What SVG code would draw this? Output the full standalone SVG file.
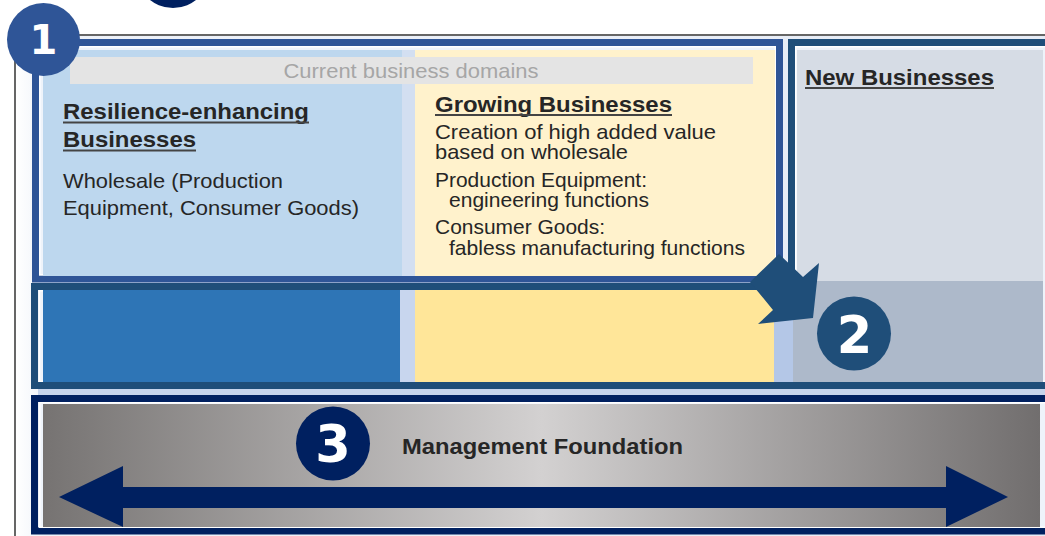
<svg xmlns="http://www.w3.org/2000/svg" width="1045" height="536" viewBox="0 0 1045 536">
  <defs>
    <linearGradient id="bg" x1="0" y1="0" x2="1" y2="0">
      <stop offset="0" stop-color="#FFFFFF"/>
      <stop offset="0.03" stop-color="#EEF2F9"/>
      <stop offset="1" stop-color="#E6ECF6"/>
    </linearGradient>
    <linearGradient id="metal" x1="0" y1="0" x2="1" y2="0">
      <stop offset="0" stop-color="#767372"/>
      <stop offset="0.5" stop-color="#D3D1D1"/>
      <stop offset="1" stop-color="#716E6E"/>
    </linearGradient>
    <style>
      .txt { font-family: "Liberation Sans", Arial, sans-serif; fill: #262626; }
      .hd { font-size: 21.5px; font-weight: bold; }
      .bd { font-size: 21px; }
      .ul { stroke: #444444; stroke-width: 2; }
      .num { font-family: "DejaVu Sans", Verdana, sans-serif; font-weight: bold; fill: #FFFFFF; text-anchor: middle; }
      .inner { fill: none; stroke: #FFFFFF; stroke-width: 1.5; }
    </style>
  </defs>

  <!-- background and outer frame -->
  <rect x="0" y="0" width="1045" height="536" fill="#FFFFFF"/>
  <rect x="16" y="36" width="1029" height="500" fill="url(#bg)"/>
  <line x1="15" y1="35" x2="1045" y2="35" stroke="#666666" stroke-width="2"/>
  <line x1="15" y1="35" x2="15" y2="536" stroke="#666666" stroke-width="2"/>
  <rect x="38" y="389" width="1007" height="6" fill="#C6D4EC"/>

  <!-- Box 2: bottom row + new businesses column -->
  <g id="box2">
    <path d="M34.5,286.5 H791.5 V42.5 H1052 V385.5 H34.5 Z" fill="#EEF3FA" stroke="#1F4E79" stroke-width="7"/>
    <path d="M39.5,290.75 H795.75 V46.75 H1050 V381.25 H39.5 Z" class="inner"/>
    <rect x="43" y="290" width="357" height="92" fill="#2E75B6"/>
    <rect x="400" y="290" width="15" height="92" fill="#C8D6EE"/>
    <rect x="415" y="290" width="359" height="92" fill="#FFE699"/>
    <rect x="774" y="290" width="19" height="92" fill="#B4C7E7"/>
    <rect x="793" y="281" width="250" height="101" fill="#ADB9CA"/>
    <rect x="797" y="50" width="246" height="231" fill="#D6DCE5"/>
    <text class="txt hd" x="805" y="85" textLength="189" lengthAdjust="spacingAndGlyphs">New Businesses</text>
    <line class="ul" x1="805" y1="88" x2="994" y2="88"/>
  </g>

  <!-- Box 1: current business domains -->
  <g id="box1">
    <rect x="35.5" y="42.5" width="744" height="236.5" fill="#EEF3FA" stroke="#2F5597" stroke-width="7"/>
    <rect x="39.75" y="46.75" width="735.5" height="228" class="inner"/>
    <rect x="43" y="50" width="359" height="226" fill="#BDD7EE"/>
    <rect x="402" y="50" width="13" height="226" fill="#D3DFF1"/>
    <rect x="415" y="50" width="360" height="226" fill="#FFF2CC"/>
    <rect x="70" y="57" width="683" height="27" fill="#E4E4E4"/>
    <text x="411" y="78" text-anchor="middle" font-family="Liberation Sans, Arial, sans-serif" font-size="21" fill="#A6A6A6" textLength="255" lengthAdjust="spacingAndGlyphs">Current business domains</text>

    <g id="resilience">
      <text class="txt hd" x="63" y="119" textLength="246" lengthAdjust="spacingAndGlyphs">Resilience-enhancing</text>
      <line class="ul" x1="63" y1="122.5" x2="309" y2="122.5"/>
      <text class="txt hd" x="63" y="147" textLength="133" lengthAdjust="spacingAndGlyphs">Businesses</text>
      <line class="ul" x1="63" y1="150.5" x2="196" y2="150.5"/>
      <text class="txt bd" x="63" y="188" textLength="220" lengthAdjust="spacingAndGlyphs">Wholesale (Production</text>
      <text class="txt bd" x="63" y="215" textLength="296" lengthAdjust="spacingAndGlyphs">Equipment, Consumer Goods)</text>
    </g>

    <g id="growing">
      <text class="txt hd" x="435" y="112" textLength="237" lengthAdjust="spacingAndGlyphs">Growing Businesses</text>
      <line class="ul" x1="435" y1="115" x2="672" y2="115"/>
      <text class="txt bd" x="435" y="139" textLength="281" lengthAdjust="spacingAndGlyphs">Creation of high added value</text>
      <text class="txt bd" x="435" y="159" textLength="193" lengthAdjust="spacingAndGlyphs">based on wholesale</text>
      <text class="txt bd" x="435" y="187" textLength="212" lengthAdjust="spacingAndGlyphs">Production Equipment:</text>
      <text class="txt bd" x="449" y="207" textLength="200" lengthAdjust="spacingAndGlyphs">engineering functions</text>
      <text class="txt bd" x="435" y="234" textLength="170" lengthAdjust="spacingAndGlyphs">Consumer Goods:</text>
      <text class="txt bd" x="449" y="255" textLength="296" lengthAdjust="spacingAndGlyphs">fabless manufacturing functions</text>
    </g>
  </g>

  <!-- Box 3: management foundation -->
  <g id="box3">
    <rect x="34.5" y="398.5" width="1020" height="132.5" fill="#EEF3FA" stroke="#002060" stroke-width="7"/>
    <rect x="39.75" y="402.75" width="1010" height="124.5" class="inner"/>
    <rect x="43" y="404" width="997" height="123" fill="url(#metal)"/>
    <text class="txt hd" x="402" y="454" textLength="281" lengthAdjust="spacingAndGlyphs">Management Foundation</text>
  </g>

  <!-- connectors -->
  <g id="connectors">
    <polygon id="arrow-2" points="779,254 803,277 819,263 813,318 758,324 773,310 750,282" fill="#1F4E79"/>
    <polygon id="arrow-foundation" points="59,497 123,466 123,487 946,487 946,466 1008,497 946,527 946,508 123,508 123,527" fill="#002060"/>
  </g>

  <!-- numbered badges -->
  <g id="badge-top">
    <circle cx="173" cy="-29" r="37" fill="#002060"/>
  </g>
  <g id="badge-1">
    <circle cx="43.5" cy="39.5" r="36.5" fill="#2F5597"/>
    <text class="num" x="43.5" y="54" font-size="40">1</text>
  </g>
  <g id="badge-2">
    <circle cx="854" cy="333.5" r="37" fill="#1F4E79"/>
    <text class="num" x="854.5" y="352.5" font-size="51">2</text>
  </g>
  <g id="badge-3">
    <circle cx="333" cy="443.5" r="37" fill="#002060"/>
    <text class="num" x="333" y="462" font-size="51">3</text>
  </g>
</svg>
